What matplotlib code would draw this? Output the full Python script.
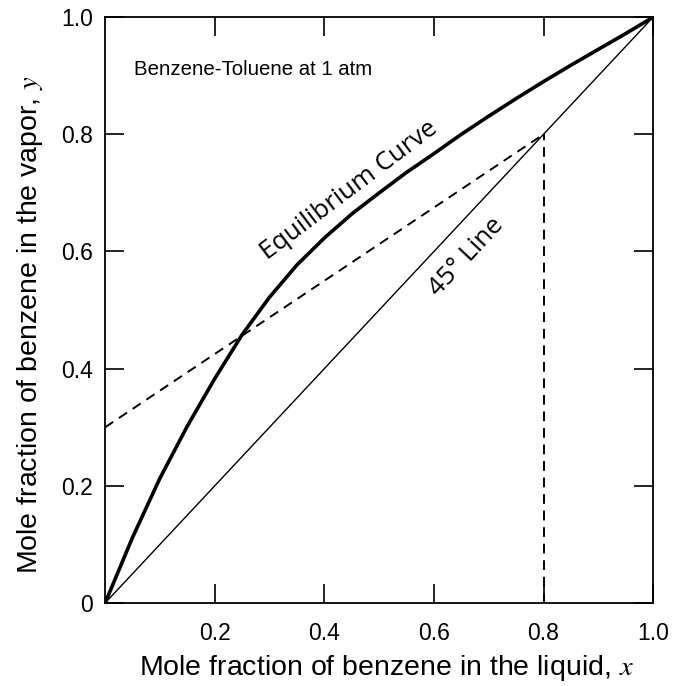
import matplotlib
matplotlib.use("Agg")
import matplotlib.pyplot as plt

# Equilibrium curve
x_eq = [0.0, 0.05, 0.1, 0.15, 0.2, 0.25, 0.3, 0.35, 0.4, 0.45, 0.5,
        0.55, 0.6, 0.65, 0.7, 0.75, 0.8, 0.85, 0.9, 0.95, 1.0]
y_eq = [0.0, 0.112, 0.213, 0.302, 0.383, 0.458, 0.522, 0.577, 0.623, 0.664, 0.70,
        0.735, 0.767, 0.80, 0.831, 0.861, 0.89, 0.918, 0.945, 0.972, 1.0]

# 45 degree line
x_diag = [0.0, 1.0]
y_diag = [0.0, 1.0]

# Operating (dashed) line
x_op = [0.0, 0.8]
y_op = [0.3, 0.8]

# Vertical dashed line at x = 0.8
x_vert = [0.8, 0.8]
y_vert = [0.0, 0.8]

xticks = [0.2, 0.4, 0.6, 0.8, 1.0]
xticklabels = ["0.2", "0.4", "0.6", "0.8", "1.0"]
yticks = [0.0, 0.2, 0.4, 0.6, 0.8, 1.0]
yticklabels = ["0", "0.2", "0.4", "0.6", "0.8", "1.0"]

plt.rcParams['font.family'] = ['Liberation Sans', 'DejaVu Sans']
plt.rcParams['mathtext.fontset'] = 'stix'

fig = plt.figure(figsize=(6.74, 6.86), dpi=100)
ax = fig.add_axes([0.156, 0.121, 0.813, 0.854])

ax.plot(x_eq, y_eq, color='black', lw=2.6, solid_joinstyle='round')
ax.plot(x_diag, y_diag, color='black', lw=1.0)
ax.plot(x_op, y_op, color='black', lw=1.4, ls=(0, (5, 3.5)))
ax.plot(x_vert, y_vert, color='black', lw=1.4, ls=(0, (5, 3.5)))

ax.set_xlim(0, 1)
ax.set_ylim(0, 1)

ax.set_xticks(xticks)
ax.set_xticklabels(xticklabels)
ax.set_yticks(yticks)
ax.set_yticklabels(yticklabels)
ax.tick_params(direction='in', length=14, width=1.2, labelsize=16.5,
               top=True, right=True)
ax.tick_params(axis='x', pad=14)
ax.tick_params(axis='y', pad=9)

for s in ax.spines.values():
    s.set_linewidth(1.3)

ax.set_xlabel("Mole fraction of benzene in the liquid, $x$", fontsize=20.5)
ax.set_ylabel("Mole fraction of benzene in the vapor, $y$", fontsize=20.5)
ax.xaxis.set_label_coords(0.513, -0.085)
ax.yaxis.set_label_coords(-0.11, 0.476)

ax.text(0.053, 0.911, "Benzene-Toluene at 1 atm", fontsize=14.7, ha='left', va='center')
ax.text(0.445, 0.705, "Equilibrium Curve", fontsize=18.5, rotation=37,
        ha='center', va='center', rotation_mode='anchor', family=['Open Sans', 'DejaVu Sans'])
ax.text(0.66, 0.59, "45° Line", fontsize=18.5, rotation=47,
        ha='center', va='center', rotation_mode='anchor', family=['Open Sans', 'DejaVu Sans'])

fig.savefig("out.png", dpi=100)
